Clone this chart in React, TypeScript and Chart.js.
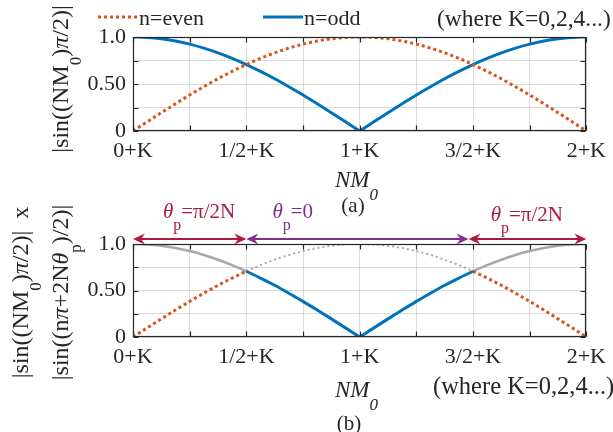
import React, { useEffect, useRef } from 'react';
import { Chart, registerables } from 'chart.js';

Chart.register(...registerables);

// Normalised position NM0 (offset by K) sampled every 1/16
const NM0 = [
  0, 0.0625, 0.125, 0.1875, 0.25, 0.3125, 0.375, 0.4375, 0.5, 0.5625, 0.625, 0.6875, 0.75, 0.8125, 0.875, 0.9375,
  1, 1.0625, 1.125, 1.1875, 1.25, 1.3125, 1.375, 1.4375, 1.5, 1.5625, 1.625, 1.6875, 1.75, 1.8125, 1.875, 1.9375, 2,
];
// |sin((NM0)π/2)| for n even
const EVEN_MAG = [
  0, 0.098, 0.195, 0.29, 0.383, 0.471, 0.556, 0.634, 0.707, 0.773, 0.831, 0.882, 0.924, 0.957, 0.981, 0.995,
  1, 0.995, 0.981, 0.957, 0.924, 0.882, 0.831, 0.773, 0.707, 0.634, 0.556, 0.471, 0.383, 0.29, 0.195, 0.098, 0,
];
// magnitude for n odd
const ODD_MAG = [
  1, 0.995, 0.981, 0.957, 0.924, 0.882, 0.831, 0.773, 0.707, 0.634, 0.556, 0.471, 0.383, 0.29, 0.195, 0.098,
  0, 0.098, 0.195, 0.29, 0.383, 0.471, 0.556, 0.634, 0.707, 0.773, 0.831, 0.882, 0.924, 0.957, 0.981, 0.995, 1,
];

const X_TICK_VALUES = [0, 0.5, 1, 1.5, 2];
const X_TICK_LABELS = ['0+K', '1/2+K', '1+K', '3/2+K', '2+K'];
const Y_TICK_VALUES = [0, 0.5, 1];
const Y_TICK_LABELS = ['0', '0.50', '1.0'];

// Steering-angle regions shown above panel (b)
const THETA_FROM = [0, 0.5, 1.48];
const THETA_TO = [0.5, 1.48, 2];
const THETA_VALUES = ['π/2N', '0', 'π/2N'];
const THETA_LABEL_AT = [0.132, 0.615, 1.578];

const SERIF = "'Liberation Serif', 'Times New Roman', serif";
const BLUE = '#0072BD';
const ORANGE = '#D95319';
const GRAY = '#A8A8A8';
const CRIMSON = '#AC1A3D';
const PURPLE = '#7E2F8E';
const INK = '#262626';
const GRID = 'rgba(0,0,0,0.14)';
const THETA_COLORS = [CRIMSON, PURPLE, CRIMSON];

const W = 613;
const H = 432;

const f = (size: number, italic = false) => `${italic ? 'italic ' : ''}${size}px ${SERIF}`;

type Run = { t: string; font: string; dy?: number };

function drawRuns(
  ctx: CanvasRenderingContext2D,
  runs: Run[],
  x: number,
  y: number,
  color: string,
  align: 'left' | 'center' = 'left',
  rotate = false,
) {
  ctx.save();
  ctx.translate(x, y);
  if (rotate) ctx.rotate(-Math.PI / 2);
  ctx.textAlign = 'left';
  ctx.textBaseline = 'alphabetic';
  ctx.fillStyle = color;
  let w = 0;
  for (const r of runs) {
    ctx.font = r.font;
    w += ctx.measureText(r.t).width;
  }
  let cx = align === 'center' ? -w / 2 : 0;
  for (const r of runs) {
    ctx.font = r.font;
    ctx.fillText(r.t, cx, r.dy ?? 0);
    cx += ctx.measureText(r.t).width;
  }
  ctx.restore();
}

function pts(ys: number[], from: number, to: number) {
  return NM0.map((x, i) => ({ x, y: ys[i] })).filter((p) => p.x >= from - 1e-9 && p.x <= to + 1e-9);
}

function series(label: string, data: { x: number; y: number }[], color: string, width: number, dash: number[] = []) {
  return {
    label,
    data,
    borderColor: color,
    backgroundColor: color,
    borderWidth: width,
    borderDash: dash,
    borderCapStyle: 'butt' as const,
    pointRadius: 0,
    fill: false,
    cubicInterpolationMode: 'monotone' as const,
  };
}

function labelFor(v: number, values: number[], labels: string[]) {
  const i = values.findIndex((t) => Math.abs(t - v) < 1e-6);
  return i >= 0 ? labels[i] : '';
}

function makeScales(xAxisHeight: number) {
  return {
    x: {
      type: 'linear' as const,
      min: 0,
      max: 2,
      afterFit: (s: any) => {
        s.height = xAxisHeight;
      },
      grid: { color: GRID, drawTicks: false, lineWidth: 1 },
      border: { display: false },
      ticks: {
        stepSize: 0.25,
        autoSkip: false,
        maxRotation: 0,
        padding: 7,
        color: INK,
        font: { family: SERIF, size: 22 },
        callback: (v: any) => labelFor(Number(v), X_TICK_VALUES, X_TICK_LABELS),
      },
    },
    y: {
      type: 'linear' as const,
      min: 0,
      max: 1,
      afterFit: (s: any) => {
        s.width = 133;
      },
      grid: { color: GRID, drawTicks: false, lineWidth: 1 },
      border: { display: false },
      ticks: {
        stepSize: 0.25,
        autoSkip: false,
        padding: 7,
        color: INK,
        font: { family: SERIF, size: 22 },
        callback: (v: any) => labelFor(Number(v), Y_TICK_VALUES, Y_TICK_LABELS),
      },
    },
  };
}

// Box around the axes with short inward tick marks on all four sides
const framePlugin = {
  id: 'frame',
  afterDatasetsDraw(chart: any) {
    const { ctx, chartArea: a, scales } = chart;
    const l = Math.round(a.left) + 0.5;
    const r = Math.round(a.right) - 0.5;
    const t = Math.round(a.top) + 0.5;
    const b = Math.round(a.bottom) - 0.5;
    ctx.save();
    ctx.strokeStyle = INK;
    ctx.lineWidth = 1.2;
    ctx.strokeRect(l, t, r - l, b - t);
    ctx.beginPath();
    for (const tk of scales.x.ticks) {
      const px = Math.round(scales.x.getPixelForValue(tk.value)) + 0.5;
      ctx.moveTo(px, b);
      ctx.lineTo(px, b - 5);
      ctx.moveTo(px, t);
      ctx.lineTo(px, t + 5);
    }
    for (const tk of scales.y.ticks) {
      const py = Math.round(scales.y.getPixelForValue(tk.value)) + 0.5;
      ctx.moveTo(l, py);
      ctx.lineTo(l + 5, py);
      ctx.moveTo(r, py);
      ctx.lineTo(r - 5, py);
    }
    ctx.stroke();
    ctx.restore();
  },
};

function yLabelRuns(tail = ''): Run[] {
  return [
    { t: '|sin((NM', font: f(24) },
    { t: '0', font: f(17), dy: 13 },
    { t: ')', font: f(24) },
    { t: 'π', font: f(24, true) },
    { t: '/2)|' + tail, font: f(24) },
  ];
}

function nmRuns(): Run[] {
  return [
    { t: 'NM', font: f(23, true) },
    { t: '0', font: f(17, true), dy: 13 },
  ];
}

const topTextPlugin = {
  id: 'topText',
  afterDraw(chart: any) {
    const { ctx, chartArea: a } = chart;
    const midY = (a.top + a.bottom) / 2;
    drawRuns(ctx, yLabelRuns(), 68, midY - 5, INK, 'center', true);
    drawRuns(ctx, nmRuns(), 335, a.bottom + 56, INK);
    drawRuns(ctx, [{ t: '(a)', font: f(21) }], 353, a.bottom + 81, INK, 'center');
    drawRuns(ctx, [{ t: '(where K=0,2,4...)', font: f(23.5) }], 437, 26, INK);

    // legend
    const items = [
      { ds: chart.data.datasets[0], x0: 98, x1: 138 },
      { ds: chart.data.datasets[1], x0: 263, x1: 303 },
    ];
    ctx.save();
    for (const it of items) {
      ctx.strokeStyle = it.ds.borderColor;
      ctx.lineWidth = it.ds.borderWidth;
      ctx.setLineDash(it.ds.borderDash || []);
      ctx.beginPath();
      ctx.moveTo(it.x0, 17);
      ctx.lineTo(it.x1, 17);
      ctx.stroke();
      ctx.setLineDash([]);
      drawRuns(ctx, [{ t: it.ds.label, font: f(22) }], it.x1 + 1, 25, INK);
    }
    ctx.restore();
  },
};

function arrowHead(ctx: CanvasRenderingContext2D, tip: number, y: number, dir: number) {
  const L = 12;
  const Wd = 5.5;
  const N = 8;
  ctx.beginPath();
  ctx.moveTo(tip, y);
  ctx.lineTo(tip - dir * L, y - Wd);
  ctx.lineTo(tip - dir * N, y);
  ctx.lineTo(tip - dir * L, y + Wd);
  ctx.closePath();
  ctx.fill();
}

const bottomTextPlugin = {
  id: 'bottomText',
  afterDraw(chart: any) {
    const { ctx, chartArea: a, scales } = chart;
    const midY = (a.top + a.bottom) / 2;
    drawRuns(ctx, yLabelRuns('  x'), 28, midY + 2, INK, 'center', true);
    drawRuns(
      ctx,
      [
        { t: '|sin((n', font: f(24) },
        { t: 'π', font: f(24, true) },
        { t: '+2N', font: f(24) },
        { t: 'θ', font: f(24, true) },
        { t: 'p', font: f(17), dy: 13 },
        { t: ')/2)|', font: f(24) },
      ],
      68,
      midY + 2,
      INK,
      'center',
      true,
    );
    drawRuns(ctx, nmRuns(), 335, a.bottom + 60, INK);
    drawRuns(ctx, [{ t: '(b)', font: f(21) }], 349, a.bottom + 93, INK, 'center');
    drawRuns(ctx, [{ t: '(where K=0,2,4...)', font: f(24.5) }], 433, a.bottom + 57, INK);

    // steering-angle regions
    const ay = a.top - 5;
    ctx.save();
    for (let i = 0; i < THETA_FROM.length; i++) {
      const x0 = scales.x.getPixelForValue(THETA_FROM[i]);
      const x1 = scales.x.getPixelForValue(THETA_TO[i]);
      const c = THETA_COLORS[i];
      ctx.strokeStyle = c;
      ctx.fillStyle = c;
      ctx.lineWidth = 2;
      ctx.beginPath();
      ctx.moveTo(x0 + 6, ay);
      ctx.lineTo(x1 - 6, ay);
      ctx.stroke();
      arrowHead(ctx, x0, ay, -1);
      arrowHead(ctx, x1, ay, 1);
      const lx = scales.x.getPixelForValue(THETA_LABEL_AT[i]);
      const by = i === 2 ? a.top - 23 : a.top - 26;
      drawRuns(
        ctx,
        [
          { t: 'θ', font: f(21, true) },
          { t: 'p', font: f(16), dy: 12 },
          { t: '=' + THETA_VALUES[i], font: f(21) },
        ],
        lx,
        by,
        c,
      );
    }
    ctx.restore();
  },
};

function useChart(ref: React.RefObject<HTMLCanvasElement | null>, build: () => any) {
  useEffect(() => {
    if (!ref.current) return;
    const chart = new Chart(ref.current, build());
    return () => chart.destroy();
  }, []);
}

const baseOptions = {
  animation: false as const,
  responsive: false,
  events: [] as any[],
  plugins: { legend: { display: false }, tooltip: { enabled: false } },
};

export default function App() {
  const topRef = useRef<HTMLCanvasElement>(null);
  const botRef = useRef<HTMLCanvasElement>(null);

  useChart(topRef, () => ({
    type: 'line',
    data: {
      datasets: [
        series('n=even', pts(EVEN_MAG, 0, 2), ORANGE, 3, [3, 3]),
        series('n=odd', pts(ODD_MAG, 0, 1), BLUE, 3),
        series('n=odd', pts(ODD_MAG, 1, 2), BLUE, 3),
      ],
    },
    options: {
      ...baseOptions,
      layout: { padding: { top: 37, right: 25, left: 0, bottom: H - 131 - 40 } },
      scales: makeScales(40),
    },
    plugins: [framePlugin, topTextPlugin],
  }));

  useChart(botRef, () => ({
    type: 'line',
    data: {
      datasets: [
        series('n=odd', pts(ODD_MAG, 0.5, 1), BLUE, 3),
        series('n=odd', pts(ODD_MAG, 1, 1.5), BLUE, 3),
        series('n=even', pts(EVEN_MAG, 0, 0.5), ORANGE, 3, [3, 3]),
        series('n=even', pts(EVEN_MAG, 1.5, 2), ORANGE, 3, [3, 3]),
        series('n=even', pts(EVEN_MAG, 0.5, 1.5), GRAY, 2, [2, 3]),
        series('n=odd', pts(ODD_MAG, 0, 0.5), GRAY, 2.5),
        series('n=odd', pts(ODD_MAG, 1.5, 2), GRAY, 2.5),
      ],
    },
    options: {
      ...baseOptions,
      layout: { padding: { top: 244, right: 25, left: 0, bottom: H - 337 - 40 } },
      scales: makeScales(40),
    },
    plugins: [framePlugin, bottomTextPlugin],
  }));

  const canvasStyle: React.CSSProperties = { position: 'absolute', left: 0, top: 0, width: W, height: H };
  return (
    <div style={{ position: 'absolute', left: 0, top: 0, width: W, height: H, background: '#fff' }}>
      <canvas ref={topRef} width={W} height={H} style={canvasStyle} />
      <canvas ref={botRef} width={W} height={H} style={canvasStyle} />
    </div>
  );
}
